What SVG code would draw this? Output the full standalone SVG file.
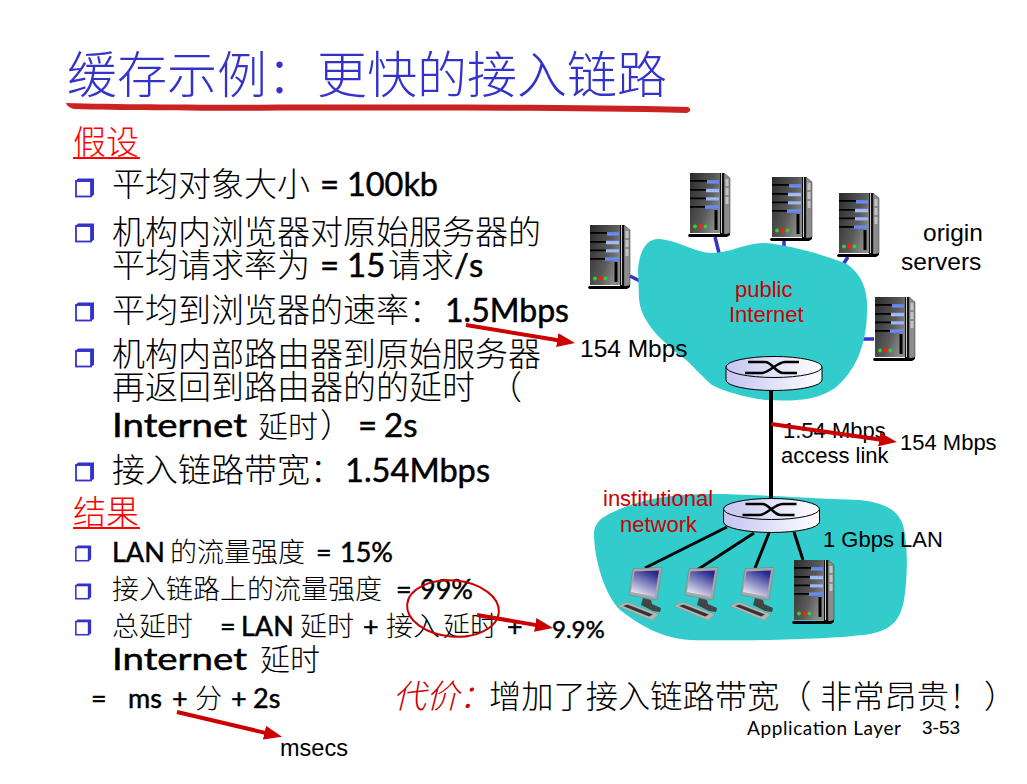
<svg xmlns="http://www.w3.org/2000/svg" xmlns:xlink="http://www.w3.org/1999/xlink" width="1027" height="784" viewBox="0 0 1027 784">
<style>
text{font-family:"Lato","Noto Sans CJK SC","Noto Sans",sans-serif;fill:#000;white-space:pre}
.c{font-family:"Noto Sans CJK SC",sans-serif;font-weight:300}
.l{font-weight:400;stroke:#000;stroke-width:.5px}
.a{font-family:"Liberation Sans",Arial,sans-serif}
.r{fill:#cc0000}
.s33{font-size:33px}.s27{font-size:27px}.s30{font-size:30px}
.cloud{fill:#33cccc}
.blue{stroke:#3333cc;stroke-width:3.5;fill:none}
.blk{stroke:#000;fill:none}
.ann{stroke:#cc0000;stroke-width:4;fill:none;marker-end:url(#ah)}
.hd{stroke:#ff0000;stroke-width:2}
</style>
<defs>
<marker id="ah" markerUnits="userSpaceOnUse" viewBox="0 0 18 14" refX="4" refY="7" markerWidth="18" markerHeight="14" orient="auto"><path d="M0 0L18 7L0 14z" fill="#cc0000"/></marker>
<linearGradient id="sf" x1="0" y1="0" x2="1" y2="0.6"><stop offset="0" stop-color="#2a2a2a"/><stop offset="0.65" stop-color="#5a5a5a"/><stop offset="1" stop-color="#8a8a8a"/></linearGradient>
<linearGradient id="bl" x1="0" y1="0" x2="0" y2="1"><stop offset="0" stop-color="#5a7fe8"/><stop offset="0.5" stop-color="#bcd0ff"/><stop offset="1" stop-color="#5a7fe8"/></linearGradient>
<linearGradient id="rs" x1="0" y1="0" x2="1" y2="0"><stop offset="0" stop-color="#c4c4f2"/><stop offset="1" stop-color="#ffffff"/></linearGradient>
<linearGradient id="sc" x1="0.7" y1="0" x2="0.2" y2="1"><stop offset="0" stop-color="#24248c"/><stop offset="1" stop-color="#f4f4fa"/></linearGradient>
<symbol id="srv" width="43" height="65" viewBox="0 0 43 65" overflow="visible">
<path d="M36 0L42 5V60L36 62z" fill="#8c8c8c" stroke="#333" stroke-width=".5"/>
<path d="M37.500 6h3v7h-3zM37.500 15h3v7h-3zM37.500 24h3v7h-3z" fill="#c4c4c4"/>
<rect x="2" y="0" width="30" height="60" fill="url(#sf)"/>
<rect x="32" y="0" width="4" height="61" fill="#111"/>
<rect x="33" y="0" width="1" height="60" fill="#ccc"/>
<path d="M2 7h29v1.800H2zM2 16h29v1.800H2zM2 24.500h29v1.800H2zM2 33h29v1.800H2z" fill="#000"/>
<path d="M19 7h12v3.400H19zM18 15.800h13v3.400H18zM18 24.200h13v3.400H18zM17 32.600h14v3.400H17z" fill="url(#bl)"/>
<rect x="26.500" y="37" width="3" height="20" fill="#000"/>
<circle cx="7" cy="53.500" r="2" fill="#2fd02f"/><circle cx="12.500" cy="53.500" r="2.200" fill="#ff1a1a"/><circle cx="17.500" cy="53.500" r="2" fill="#2fd02f"/>
<path d="M1 61h38l3-1v2l-3 2H1l-1-1.500z" fill="#000"/>
</symbol>
<symbol id="pc" width="46" height="54" viewBox="0 0 46 54" overflow="visible">
<path d="M16 1.700L45 0.300 40 33 12 28z" fill="#a8a8a8" stroke="#777" stroke-width=".5"/>
<path d="M17.500 4.500L42 3.500 37.800 29.500 14 25z" fill="url(#sc)"/>
<path d="M26 31L34 33 35 37 44 41 43 45 36 44 24 38z" fill="#444"/>
<path d="M.7 39L10 35 42 47.500 35 53.500z" fill="#b5b5b5" stroke="#888" stroke-width=".4"/>
<path d="M6 39L10.500 37.500 36 47.500 32 49.500z" fill="#333"/>
</symbol>
<symbol id="rt" width="100" height="40" viewBox="-50 -14 100 40" overflow="visible">
<path d="M-48 0V13A48 10.500 0 0 0 48 13V0z" fill="url(#rs)" stroke="#000" stroke-width="1"/>
<ellipse cx="0" cy="0" rx="48" ry="10.500" fill="url(#rs)" stroke="#000" stroke-width="1"/>
<path d="M-26 -5H-9C-2 -5 2 6 9 6H23M-29 6H-12C-5 6 3 -5 11 -5H25" fill="none" stroke="#000" stroke-width="2.500"/>
</symbol>
<symbol id="bu" viewBox="0 0 20 20" overflow="visible">
<rect x="1" y="3" width="15" height="15.500" fill="#fff" stroke="#3333cc" stroke-width="1.800"/>
<path d="M1 2.500L3 .5H19V17L16 18.500V3.500H1z" fill="#3333cc"/>
</symbol>
</defs>
<rect width="1027" height="784" fill="#fff"/>

<g id="title">
<text x="67" y="93" class="c" font-size="50" style="fill:#3333cc">缓存示例：更快的接入链路</text>
<path d="M66 103C200 107 500 102 688 107Q693 110 687 113C500 108 200 113 74 109Q67 107 66 103z" fill="#cc2222"/>
</g>

<g id="connectors">
<path class="blue" d="M715 237L719 253"/>
<path class="blue" d="M784 241V248"/>
<path class="blue" d="M848 257L842 266"/>
<path class="blue" d="M630 276L640 281"/>
<path class="blue" d="M862 339H874"/>
</g>

<g id="public-internet">
<path class="cloud" d="M638 270C640 245 650 238 660 239C680 241 695 253 712 253C730 253 745 243 765 243C785 244 825 255 847 264C862 275 868 290 867 310C867 345 855 372 835 388C815 402 790 401 765 400C745 397 725 392 712 385C700 375 690 362 680 355C660 340 640 320 639 298z"/>
<text x="735" y="297" class="a r" font-size="22">public</text>
<text x="729" y="322" class="a r" font-size="22">Internet</text>
</g>
<g id="institutional-network">
<path class="cloud" d="M594 533C595 520 605 515 625 507C650 497 680 494 710 494C750 494 800 498 860 500C885 503 898 510 903 525C908 545 908 575 904 600C900 622 890 630 870 634C830 640 740 641 690 640C660 638 640 625 620 610C605 595 594 560 594 533z"/>
<text x="603" y="506" class="a r" font-size="22">institutional</text>
<text x="620" y="532" class="a r" font-size="22">network</text>
</g>

<g id="links">
<path class="blk" stroke-width="4" d="M771 390V500"/>
<path class="blk" stroke-width="3" d="M727 527L645 568"/>
<path class="blk" stroke-width="3" d="M754 533L697 570"/>
<path class="blk" stroke-width="3" d="M769 533L755 568"/>
<path class="blk" stroke-width="3" d="M794 532L803 560"/>
</g>

<g id="router-top"><use xlink:href="#rt" href="#rt" x="724" y="353"/></g>
<g id="router-bottom"><use xlink:href="#rt" href="#rt" x="721.500" y="495"/></g>
<g id="server-1"><use xlink:href="#srv" href="#srv" x="588" y="225"/></g>
<g id="server-2"><use xlink:href="#srv" href="#srv" x="688" y="173"/></g>
<g id="server-3"><use xlink:href="#srv" href="#srv" x="770" y="177"/></g>
<g id="server-4"><use xlink:href="#srv" href="#srv" x="837" y="193"/></g>
<g id="server-5"><use xlink:href="#srv" href="#srv" x="873" y="297"/></g>
<g id="server-lan"><use xlink:href="#srv" href="#srv" x="792" y="560"/></g>
<g id="pc-1"><use xlink:href="#pc" href="#pc" x="617" y="567"/></g>
<g id="pc-2"><use xlink:href="#pc" href="#pc" x="673" y="567"/></g>
<g id="pc-3"><use xlink:href="#pc" href="#pc" x="729" y="567"/></g>

<g id="network-labels" class="a">
<text x="923" y="241" class="a" font-size="24.500">origin</text>
<text x="901" y="270" class="a" font-size="24.500">servers</text>
<text x="580" y="357" class="a" font-size="24.500">154 Mbps</text>
<text x="783" y="438" class="a" font-size="22">1.54 Mbps</text>
<text x="781" y="463" class="a" font-size="22">access link</text>
<text x="900" y="450" class="a" font-size="22">154 Mbps</text>
<text x="823" y="547" class="a" font-size="22">1 Gbps LAN</text>
</g>

<g id="bullets">
<use xlink:href="#bu" href="#bu" x="75" y="178" width="20" height="20"/>
<use xlink:href="#bu" href="#bu" x="75" y="223" width="20" height="20"/>
<use xlink:href="#bu" href="#bu" x="75" y="302" width="20" height="20"/>
<use xlink:href="#bu" href="#bu" x="75" y="348" width="20" height="20"/>
<use xlink:href="#bu" href="#bu" x="75" y="462" width="20" height="20"/>
<use xlink:href="#bu" href="#bu" x="75" y="545" width="17" height="17"/>
<use xlink:href="#bu" href="#bu" x="75" y="583" width="17" height="17"/>
<use xlink:href="#bu" href="#bu" x="75" y="619" width="17" height="17"/>
</g>

<g id="body-text">
<text x="73" y="154" class="c s33" style="fill:#ff0000">假设</text>
<line x1="73" y1="158" x2="140" y2="158" class="hd"/>
<text y="196" class="s33"><tspan x="112" class="c">平均对象大小</tspan><tspan x="320" class="l">=</tspan><tspan x="347" class="l" textLength="91" lengthAdjust="spacingAndGlyphs">100kb</tspan></text>
<text x="112" y="244" class="c s33">机构内浏览器对原始服务器的</text>
<text y="277" class="s33"><tspan x="112" class="c">平均请求率为</tspan><tspan x="320" class="l">=</tspan><tspan x="347" class="l">15</tspan><tspan x="388" class="c">请求</tspan><tspan x="454" class="l">/s</tspan></text>
<text y="322" class="s33"><tspan x="112" class="c">平均到浏览器的速率：</tspan><tspan x="445" class="l" textLength="124" lengthAdjust="spacingAndGlyphs">1.5Mbps</tspan></text>
<text x="112" y="366" class="c s33">机构内部路由器到原始服务器</text>
<text x="112" y="399" class="c s33">再返回到路由器的的延时<tspan x="489">（</tspan></text>
<text y="437" class="s33"><tspan x="112" class="l" textLength="135" lengthAdjust="spacingAndGlyphs">Internet</tspan><tspan x="258" class="c s30">延时</tspan><tspan x="320" class="c">）</tspan><tspan x="358" class="l">=</tspan><tspan x="384" class="l">2s</tspan></text>
<text y="482" class="s33"><tspan x="112" class="c">接入链路带宽：</tspan><tspan x="345" class="l" textLength="145" lengthAdjust="spacingAndGlyphs">1.54Mbps</tspan></text>
<text x="73" y="524" class="c s33" style="fill:#ff0000">结果</text>
<line x1="73" y1="528" x2="140" y2="528" class="hd"/>
<text y="562" class="s27"><tspan x="112" class="l">LAN</tspan><tspan x="170" class="c">的流量强度</tspan><tspan x="316" class="l">=</tspan><tspan x="340" class="l">15%</tspan></text>
<text y="599" class="s27"><tspan x="112" class="c">接入链路上的流量强度</tspan><tspan x="396" class="l">=</tspan><tspan x="420" class="l">99%</tspan></text>
<text y="636" class="s27"><tspan x="112" class="c">总延时</tspan><tspan x="220" class="l">=</tspan><tspan x="241" class="l">LAN</tspan><tspan x="300" class="c">延时</tspan><tspan x="363" class="l">+</tspan><tspan x="386" class="c">接入</tspan><tspan x="443" class="c">延时</tspan><tspan x="507" class="l">+</tspan></text>
<text y="670" class="s30"><tspan x="112" class="l" textLength="135" lengthAdjust="spacingAndGlyphs">Internet</tspan><tspan x="260" class="c">延时</tspan></text>
<text y="708" class="s27"><tspan x="91" class="l">=</tspan><tspan x="128" class="l">ms</tspan><tspan x="172" class="l">+</tspan><tspan x="195" class="c">分</tspan><tspan x="231" class="l">+</tspan><tspan x="253" class="l">2s</tspan></text>
<text x="393" y="708" class="c r" font-size="33" font-style="italic">代价：</text>
<text y="708" class="c" font-size="32.250"><tspan x="489">增加了接入链路带宽（</tspan><tspan x="820">非常昂贵！</tspan><tspan x="984">）</tspan></text>
<text x="552" y="638" font-size="24" class="l">9.9%</text>
<text x="280" y="756" font-size="23.500" class="a">msecs</text>
<text x="747" y="735" font-size="19" textLength="154" lengthAdjust="spacing">Application Layer</text>
<text x="922" y="734" font-size="19" class="a">3-53</text>
</g>

<g id="annotations">
<ellipse cx="453" cy="608.500" rx="46" ry="28" transform="rotate(5 453 608.500)" fill="none" stroke="#cc0000" stroke-width="2"/>
<path class="ann" d="M466 325L561.200 340.700"/>
<path class="ann" d="M771 424L883.100 440"/>
<path class="ann" d="M477 615L539.200 625.600"/>
<path class="ann" d="M177 712L268.400 733.600"/>
</g>
</svg>
